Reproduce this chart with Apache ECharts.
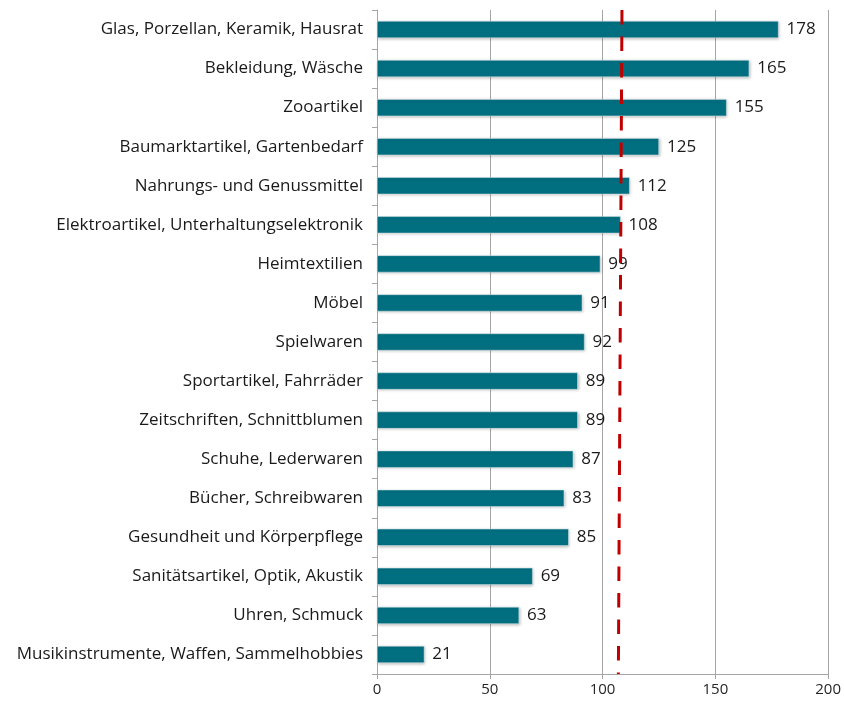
<!DOCTYPE html>
<html lang="de">
<head>
    <meta charset="UTF-8">
    <title>Sortimente</title>
    <script src="https://cdn.jsdelivr.net/npm/echarts@6/dist/echarts.min.js"></script>
    <style>
        html, body { margin: 0; padding: 0; background: #fff; }
        #main { width: 844px; height: 706px; }
    </style>
</head>
<body>
<div id="main"></div>
<script type="text/javascript">
    // Kategorien von oben nach unten
    var categories = [
        'Glas, Porzellan, Keramik, Hausrat',
        'Bekleidung, Wäsche',
        'Zooartikel',
        'Baumarktartikel, Gartenbedarf',
        'Nahrungs- und Genussmittel',
        'Elektroartikel, Unterhaltungselektronik',
        'Heimtextilien',
        'Möbel',
        'Spielwaren',
        'Sportartikel, Fahrräder',
        'Zeitschriften, Schnittblumen',
        'Schuhe, Lederwaren',
        'Bücher, Schreibwaren',
        'Gesundheit und Körperpflege',
        'Sanitätsartikel, Optik, Akustik',
        'Uhren, Schmuck',
        'Musikinstrumente, Waffen, Sammelhobbies'
    ];
    var values = [178, 165, 155, 125, 112, 108, 99, 91, 92, 89, 89, 87, 83, 85, 69, 63, 21];
    var xTicks = [0, 50, 100, 150, 200];
    // rote Linie: Wert oben / unten
    var refLineX = [108.6, 107.0];
    var refLineY = [1, 0];

    var myChart = echarts.init(document.getElementById('main'), null, { renderer: 'canvas' });

    var option = {
        animation: false,
        textStyle: { fontFamily: '"Open Sans", sans-serif' },
        grid: { left: 377, right: 13, top: 10, bottom: 32, containLabel: false },
        xAxis: {
            type: 'value',
            min: xTicks[0],
            max: xTicks[xTicks.length - 1],
            interval: 50,
            axisLine: { show: true, lineStyle: { color: '#a6a6a6' } },
            axisTick: { show: true, length: 5, lineStyle: { color: '#a6a6a6' } },
            axisLabel: { color: '#262626', fontSize: 15, margin: 8 },
            splitLine: { show: true, lineStyle: { color: '#a6a6a6' } }
        },
        yAxis: [{
            type: 'category',
            data: categories,
            inverse: true,
            axisLine: { show: true, lineStyle: { color: '#a6a6a6' } },
            axisTick: { show: true, length: 5, lineStyle: { color: '#a6a6a6' } },
            axisLabel: { color: '#1a1a1a', fontSize: 17, margin: 14 }
        }, {
            type: 'value',
            min: 0,
            max: 1,
            show: false
        }],
        series: [{
            type: 'bar',
            data: values,
            barWidth: 17,
            itemStyle: {
                color: '#016f80',
                borderColor: '#d9e6ea',
                borderWidth: 0.5,
                shadowColor: 'rgba(0,0,0,0.25)',
                shadowBlur: 3,
                shadowOffsetX: 1,
                shadowOffsetY: 1
            },
            label: {
                show: true,
                position: 'right',
                distance: 8,
                color: '#1a1a1a',
                fontSize: 17
            },
            z: 2
        }, {
            type: 'line',
            yAxisIndex: 1,
            data: refLineX.map(function (x, i) { return [x, refLineY[i]]; }),
            symbol: 'none',
            lineStyle: { color: '#c00000', width: 3, type: [14.5, 12] },
            z: 3
        }]
    };

    myChart.setOption(option);
</script>
</body>
</html>
